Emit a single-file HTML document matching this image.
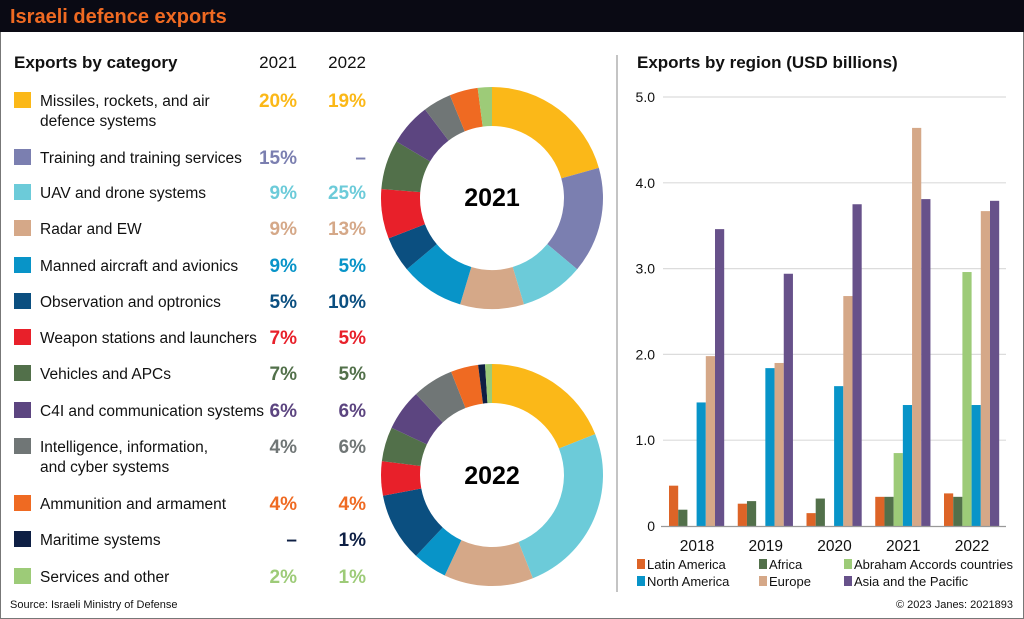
<!DOCTYPE html>
<html><head><meta charset="utf-8"><style>
html,body{margin:0;padding:0;background:#fff}
svg{display:block;font-family:"Liberation Sans",Arial,sans-serif}
</style></head><body>
<svg id="s" width="1024" height="619" viewBox="0 0 1024 619" xmlns="http://www.w3.org/2000/svg">
<rect x="0.5" y="0.5" width="1023" height="618" fill="#fff" stroke="#777"/>
<rect x="0" y="0" width="1024" height="32" fill="#0a0a14"/>
<text x="10" y="23" font-size="20" font-weight="bold" fill="#ef6a22">Israeli defence exports</text>
<text x="14" y="68" font-size="17" font-weight="bold" fill="#111">Exports by category</text>
<text x="297" y="68" font-size="17" fill="#111" text-anchor="end">2021</text>
<text x="366" y="68" font-size="17" fill="#111" text-anchor="end">2022</text>
<line x1="617" y1="55" x2="617" y2="592" stroke="#888" stroke-width="1"/>
<text x="637" y="68" font-size="17" font-weight="bold" fill="#111">Exports by region (USD billions)</text>
<text x="10" y="608" font-size="11" fill="#111">Source: Israeli Ministry of Defense</text>
<text x="1013" y="608" font-size="11" fill="#111" text-anchor="end">© 2023 Janes: 2021893</text>
<g id="left"></g><g id="pies"></g><g id="bars"></g>
<text x="492" y="206" font-size="25" font-weight="bold" text-anchor="middle" fill="#000">2021</text>
<text x="492" y="484" font-size="25" font-weight="bold" text-anchor="middle" fill="#000">2022</text>
</svg>
<script>
var NS="http://www.w3.org/2000/svg";
function el(p,t,a,txt){var e=document.createElementNS(NS,t);for(var k in a)e.setAttribute(k,a[k]);if(txt!=null)e.textContent=txt;document.getElementById(p).appendChild(e);return e;}
var cats=[
["Missiles, rockets, and air|defence systems","#fbb818",20,19,100],
["Training and training services","#7b7fb0",15,0,157],
["UAV and drone systems","#6ccbd9",9,25,192],
["Radar and EW","#d5a888",9,13,228],
["Manned aircraft and avionics","#0894c8",9,5,265],
["Observation and optronics","#0b4f80",5,10,301],
["Weapon stations and launchers","#e8202a",7,5,337],
["Vehicles and APCs","#52704a",7,5,373],
["C4I and communication systems","#5c4580",6,6,410],
["Intelligence, information,|and cyber systems","#707676",4,6,446],
["Ammunition and armament","#ef6a22",4,4,503],
["Maritime systems","#0e1f44",0,1,539],
["Services and other","#9dcb78",2,1,576]];
cats.forEach(function(c){
 var y=c[4];
 el("left","rect",{x:14,y:y-8,width:17,height:16,fill:c[1]});
 var ls=c[0].split("|");
 ls.forEach(function(l,i){el("left","text",{x:40,y:y+6+i*20,"font-size":15.5,fill:"#111"},l);});
 [[c[2],297],[c[3],366]].forEach(function(v){
  el("left","text",{x:v[1],y:y+7,"font-size":19,"font-weight":"bold",fill:c[1],"text-anchor":"end"},v[0]?v[0]+"%":"–");
 });
});
function pie(cx,cy,idx){
 var R=111,r=72,tot=0;cats.forEach(function(c){tot+=c[idx];});
 var a=0;
 cats.forEach(function(c){
  var v=c[idx];if(!v)return;
  var a0=a/tot*2*Math.PI,a1=(a+v)/tot*2*Math.PI;a+=v;
  function P(rr,an){return (cx+rr*Math.sin(an)).toFixed(2)+","+(cy-rr*Math.cos(an)).toFixed(2);}
  var lg=(a1-a0)>Math.PI?1:0;
  el("pies","path",{d:"M"+P(R,a0)+"A"+R+","+R+" 0 "+lg+" 1 "+P(R,a1)+"L"+P(r,a1)+"A"+r+","+r+" 0 "+lg+" 0 "+P(r,a0)+"Z",fill:c[1]});
 });
}
pie(492,198,2);pie(492,475,3);
var y0=526,k=85.8,x0=663,x1=1006;
for(var i=1;i<=5;i++){var y=y0-i*k;el("bars","line",{x1:x0,y1:y,x2:x1,y2:y,stroke:"#dcdcdc","stroke-width":1.2});
 el("bars","text",{x:655,y:y+5,"font-size":14,fill:"#111","text-anchor":"end"},i.toFixed(1));}
el("bars","text",{x:655,y:y0+5,"font-size":14,fill:"#111","text-anchor":"end"},"0");
var bc=["#dd6427","#52704a","#9dcb78","#0894c8","#d5a888","#67518a"];
var data=[[0.47,0.19,0,1.44,1.98,3.46],[0.26,0.29,0,1.84,1.90,2.94],[0.15,0.32,0,1.63,2.68,3.75],[0.34,0.34,0.85,1.41,4.64,3.81],[0.38,0.34,2.96,1.41,3.67,3.79]];
var yrs=["2018","2019","2020","2021","2022"];
data.forEach(function(d,g){var gx=669+g*68.75;
 d.forEach(function(v,j){if(v)el("bars","rect",{x:gx+j*9.2,y:y0-v*k,width:9.2,height:v*k,fill:bc[j]});});
 el("bars","text",{x:gx+28,y:y0+25,"font-size":15.5,fill:"#111","text-anchor":"middle"},yrs[g]);
});
el("bars","line",{x1:x0-2,y1:y0+0.5,x2:x1,y2:y0+0.5,stroke:"#999","stroke-width":1.3});
var leg=[["Latin America",637,569],["Africa",759,569],["Abraham Accords countries",844,569],["North America",637,586],["Europe",759,586],["Asia and the Pacific",844,586]];
leg.forEach(function(l,i){el("bars","rect",{x:l[1],y:l[2]-10,width:8,height:10,fill:bc[i]});
 el("bars","text",{x:l[1]+10,y:l[2],"font-size":13,fill:"#111"},l[0]);});
</script>
</body></html>
